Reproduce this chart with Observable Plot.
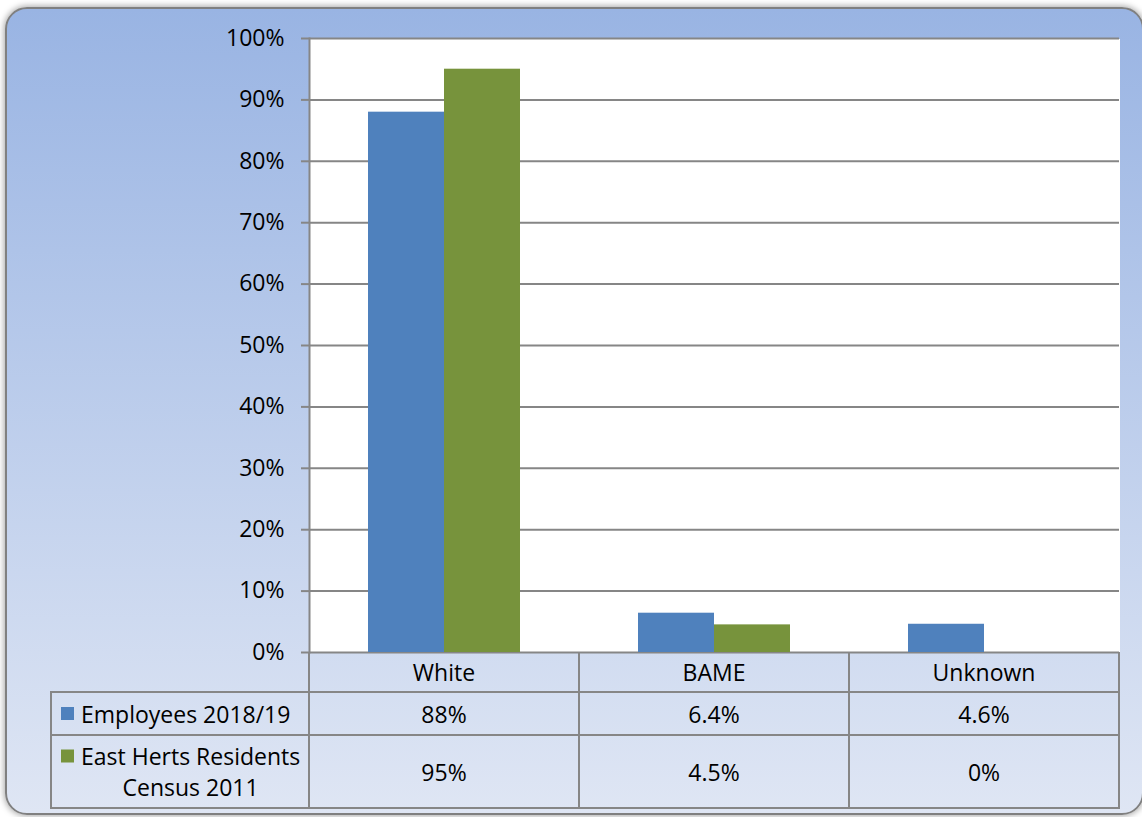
<!DOCTYPE html>
<html>
<head>
<meta charset="utf-8">
<script src="https://cdn.jsdelivr.net/npm/d3@7"></script>
<script src="https://cdn.jsdelivr.net/npm/@observablehq/plot@0.6"></script>
<style>
  html, body { margin: 0; padding: 0; background: #fff; }
  body { width: 1142px; height: 817px; position: relative; overflow: hidden; font-family: "Open Sans", sans-serif; }
  #card {
    position: absolute; left: 5px; top: 7px; width: 1139px; height: 808px;
    box-sizing: border-box; border: 2px solid #808080; border-radius: 22px;
    background: linear-gradient(to bottom, #99b4e3 0%, #dfe6f4 100%);
    box-shadow: 0 0 6px 1px rgba(0, 0, 0, 0.35);
  }
  #chart { position: absolute; left: 0; top: 0; }
</style>
</head>
<body>
<div id="card"></div>
<div id="chart"></div>
<script>
// Ethnicity breakdown: council employees vs. district residents
const categories = ["White", "BAME", "Unknown"];
const seriesNames = ["Employees 2018/19", "East Herts Residents Census 2011"];
const seriesLines = [["Employees 2018/19"], ["East Herts Residents", "Census 2011"]];
const employees = [88, 6.4, 4.6];
const residents = [95, 4.5, 0];
const yTicks = [0, 10, 20, 30, 40, 50, 60, 70, 80, 90, 100];
const seriesColors = ["#4f81bd", "#77933c"];

const seriesValues = [employees, residents];
const rows = categories.flatMap((c, i) =>
  seriesNames.map((s, k) => ({category: c, series: s, value: seriesValues[k][i]}))
);

const FONT = "'Open Sans', sans-serif";
const FONT_SIZE = 23;
const LINE = "#868686";

const chart = Plot.plot({
  width: 1142,
  height: 817,
  marginLeft: 308,
  marginRight: 22,
  marginTop: 38,
  marginBottom: 165,
  style: {background: "none", overflow: "visible", fontFamily: FONT, fontSize: FONT_SIZE + "px", color: "black"},
  fx: {domain: categories, padding: 0, axis: null},
  x: {domain: seriesNames, paddingInner: 0, paddingOuter: 0.77, axis: null},
  y: {domain: [0, 100], label: null},
  color: {domain: seriesNames, range: seriesColors},
  marks: [
    Plot.frame({fill: "white", stroke: "none", shapeRendering: "crispEdges"}),
    Plot.gridY(yTicks, {stroke: LINE, strokeOpacity: 1, strokeWidth: 2}),
    Plot.barY(rows, {fx: "category", x: "series", y: "value", fill: "series"}),
    Plot.frame({anchor: "left", stroke: LINE, strokeOpacity: 1, strokeWidth: 2, facetAnchor: "left"}),
    Plot.axisY(yTicks, {
      tickFormat: d => d + "%",
      tickSize: 8,
      tickPadding: 17,
      stroke: LINE,
      strokeOpacity: 1,
      strokeWidth: 2,
      fill: "black",
      label: null
    })
  ]
});
document.getElementById("chart").append(chart);

// Data table under the plot, aligned with the category bands
const fx = chart.scale("fx");
const y = chart.scale("y");
const bw = fx.bandwidth;
const colLeft = fx.apply(categories[0]);
const colRight = fx.apply(categories[categories.length - 1]) + bw;
const y0 = y.apply(0);
const rowEdges = [y0, y0 + 40, y0 + 83, y0 + 156];
const tableLeft = 51;

const g = d3.select(chart).append("g")
  .attr("font-family", FONT)
  .attr("font-size", FONT_SIZE)
  .attr("fill", "black");

const lines = g.append("g").attr("stroke", LINE).attr("stroke-width", 2);
// column separators
[colLeft, ...categories.map(c => fx.apply(c) + bw)].forEach(xv => {
  lines.append("line").attr("x1", xv).attr("x2", xv).attr("y1", rowEdges[0]).attr("y2", rowEdges[3]);
});
lines.append("line").attr("x1", tableLeft).attr("x2", tableLeft).attr("y1", rowEdges[1]).attr("y2", rowEdges[3]);
// row separators
rowEdges.slice(1).forEach(yv => {
  lines.append("line").attr("x1", tableLeft - 1).attr("x2", colRight + 1).attr("y1", yv).attr("y2", yv);
});

// category header
categories.forEach(c => {
  g.append("text")
    .attr("x", fx.apply(c) + bw / 2)
    .attr("y", (rowEdges[0] + rowEdges[1]) / 2)
    .attr("text-anchor", "middle")
    .attr("dominant-baseline", "central")
    .text(c);
});

// series rows: legend key, label, values
seriesNames.forEach((s, k) => {
  const top = rowEdges[k + 1], bottom = rowEdges[k + 2];
  const mid = (top + bottom) / 2;
  const labelLines = seriesLines[k];
  const lh = 31;
  const firstY = mid - (labelLines.length - 1) * lh / 2;
  g.append("rect")
    .attr("x", 61).attr("y", firstY - 6.5)
    .attr("width", 13).attr("height", 13)
    .attr("fill", seriesColors[k]);
  const first = g.append("text")
    .attr("x", 81).attr("y", firstY)
    .attr("text-anchor", "start")
    .attr("dominant-baseline", "central")
    .text(labelLines[0]);
  const center = 81 + first.node().getComputedTextLength() / 2;
  labelLines.slice(1).forEach((t, j) => {
    g.append("text")
      .attr("x", center).attr("y", firstY + (j + 1) * lh)
      .attr("text-anchor", "middle")
      .attr("dominant-baseline", "central")
      .text(t);
  });
  categories.forEach((c, i) => {
    g.append("text")
      .attr("x", fx.apply(c) + bw / 2)
      .attr("y", mid)
      .attr("text-anchor", "middle")
      .attr("dominant-baseline", "central")
      .text(seriesValues[k][i] + "%");
  });
});
</script>
</body>
</html>
